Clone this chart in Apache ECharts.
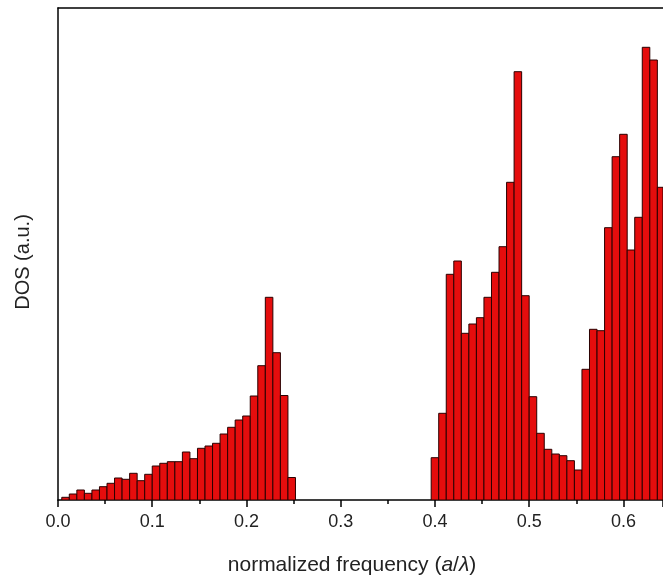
<!DOCTYPE html>
<html>
<head>
<meta charset="utf-8">
<script src="https://cdn.jsdelivr.net/npm/echarts@6/dist/echarts.min.js"></script>
<style>
html,body{margin:0;padding:0;background:#fff;}
#chart{width:663px;height:577px;}
</style>
</head>
<body>
<div id="chart"></div>
<script>
// Bin centres (normalized frequency a/λ) and DOS heights (a.u.)
var binWidth = 0.008;
var freqLow = [0.008,0.016,0.024,0.032,0.040,0.048,0.056,0.064,0.072,0.080,0.088,0.096,0.104,0.112,0.120,0.128,0.136,0.144,0.152,0.160,0.168,0.176,0.184,0.192,0.200,0.208,0.216,0.224,0.232,0.240,0.248];
var dosLow = [2.7,6,10,6.7,10,13.3,16.7,22,20.7,26.7,19.3,25.7,34,36.7,38.3,38.3,48,41.3,51.7,54,56.7,66,72.7,80,84,104,134.3,202.7,147.3,104.5,22.5];
var freqHigh = [0.400,0.408,0.416,0.424,0.432,0.440,0.448,0.456,0.464,0.472,0.480,0.488,0.496,0.504,0.512,0.520,0.528,0.536,0.544,0.552,0.560,0.568,0.576,0.584,0.592,0.600,0.608,0.616,0.624,0.632,0.640];
var dosHigh = [42.3,86.7,225.7,239,166.7,176,182.3,202.7,227.7,253.3,317.7,428.3,204.3,103.3,66.7,50.7,46,44.3,39.3,30,130.7,170.7,169.3,272.3,343.3,365.7,250,282.7,452.7,440,312.7];
var xTickLabels = ['0.0','0.1','0.2','0.3','0.4','0.5','0.6'];

var data = [];
freqLow.forEach(function(f,i){ data.push([f, dosLow[i]]); });
freqHigh.forEach(function(f,i){ data.push([f, dosHigh[i]]); });

var FONT = "'Liberation Sans', Arial, sans-serif";
var chart = echarts.init(document.getElementById('chart'), null, {renderer:'canvas'});

function renderItem(params, api){
  var x = api.value(0), y = api.value(1);
  var p0 = api.coord([x - binWidth/2, y]);
  var p1 = api.coord([x + binWidth/2, 0]);
  var rect = echarts.graphic.clipRectByRect(
    {x:p0[0], y:p0[1], width:p1[0]-p0[0], height:p1[1]-p0[1]},
    {x:params.coordSys.x, y:params.coordSys.y, width:params.coordSys.width, height:params.coordSys.height}
  );
  if(!rect) return;
  return {type:'rect', shape:rect, style:{fill:'#e50d0d', stroke:'#2a0000', lineWidth:1}};
}

chart.setOption({
  animation:false,
  backgroundColor:'#fff',
  grid:{left:58, right:0, top:8, bottom:77},
  xAxis:[{
    type:'value', min:0, max:0.642, interval:0.1,
    axisLine:{show:true, onZero:false, lineStyle:{color:'#000', width:1.5}},
    axisTick:{show:true, inside:false, length:7, lineStyle:{color:'#000', width:1.5}},
    minorTick:{show:true, splitNumber:2, length:4, lineStyle:{color:'#000', width:1.5}},
    splitLine:{show:false},
    axisLabel:{
      fontFamily:FONT, fontSize:18, color:'#222', margin:13, showMaxLabel:false,
      formatter:function(v){ var i = Math.round(v*10); return (i>=0 && i<xTickLabels.length && Math.abs(v*10-i)<1e-6) ? xTickLabels[i] : ''; }
    }
  },{
    type:'value', position:'top', min:0, max:0.642,
    axisLine:{show:true, onZero:false, lineStyle:{color:'#000', width:1.5}},
    axisTick:{show:false}, axisLabel:{show:false}, splitLine:{show:false}
  }],
  yAxis:{
    type:'value', min:0, max:492,
    axisLine:{show:true, onZero:false, lineStyle:{color:'#000', width:1.5}},
    axisTick:{show:false}, axisLabel:{show:false}, splitLine:{show:false}
  },
  series:[{
    type:'custom', renderItem:renderItem, data:data,
    encode:{x:0, y:1}, clip:true
  }],
  graphic:[{
    type:'text', x:352, y:565,
    style:{
      text:'normalized frequency ({i|a}/{i|λ})',
      fontFamily:FONT, fontSize:21, fill:'#222',
      align:'center', verticalAlign:'middle',
      rich:{i:{fontFamily:FONT, fontSize:21, fontStyle:'italic', fill:'#222'}}
    }
  },{
    type:'text', x:23, y:262, rotation:Math.PI/2,
    style:{
      text:'DOS (a.u.)', fontFamily:FONT, fontSize:20, fill:'#222',
      align:'center', verticalAlign:'middle'
    }
  }]
});
</script>
</body>
</html>
